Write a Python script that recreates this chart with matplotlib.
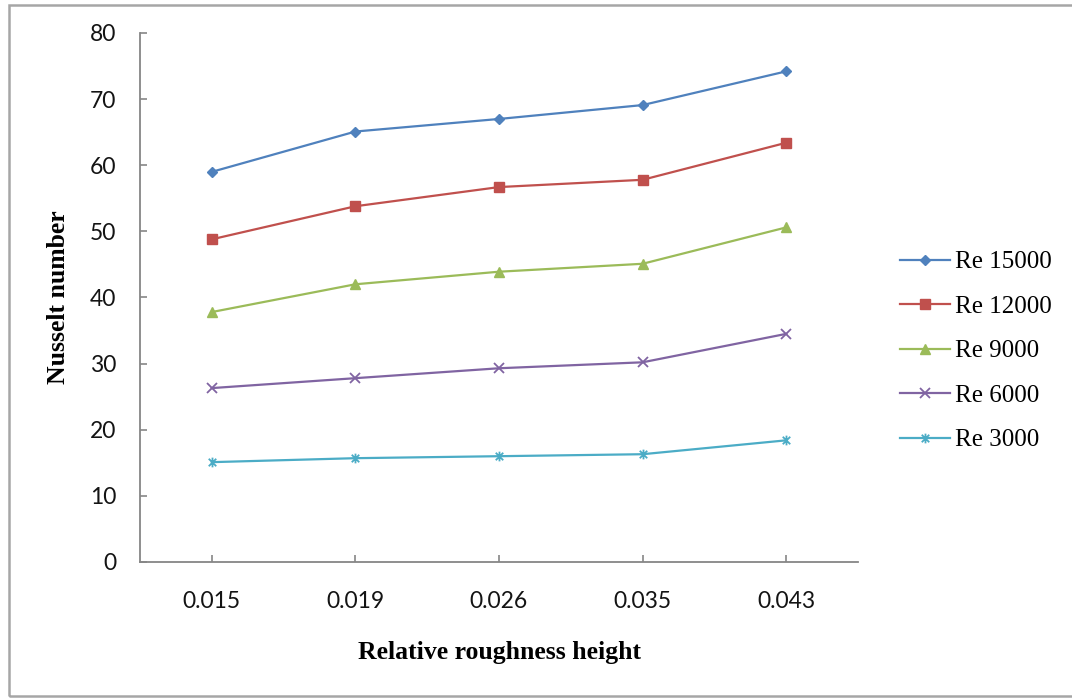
import matplotlib
matplotlib.use("Agg")
import matplotlib.pyplot as plt
from matplotlib.patches import Rectangle
from matplotlib.path import Path

# Data
roughness = ["0.015", "0.019", "0.026", "0.035", "0.043"]
re_15000 = [59.0, 65.1, 67.0, 69.1, 74.2]
re_12000 = [48.8, 53.8, 56.7, 57.8, 63.4]
re_9000 = [37.8, 42.0, 43.9, 45.1, 50.6]
re_6000 = [26.3, 27.8, 29.3, 30.2, 34.5]
re_3000 = [15.1, 15.7, 16.0, 16.3, 18.4]
series_labels = ["Re 15000", "Re 12000", "Re 9000", "Re 6000", "Re 3000"]
y_ticks = [0, 10, 20, 30, 40, 50, 60, 70, 80]

# Asterisk marker: an x with a vertical stroke
star_path = Path(
    [(-1, -1), (1, 1), (-1, 1), (1, -1), (0, -1.3), (0, 1.3)],
    [Path.MOVETO, Path.LINETO, Path.MOVETO, Path.LINETO, Path.MOVETO, Path.LINETO],
)

styles = [
    dict(color="#4F81BD", marker="D", ms=5.5),
    dict(color="#C0504D", marker="s", ms=6.5),
    dict(color="#9BBB59", marker="^", ms=7.0),
    dict(color="#8064A2", marker="x", ms=6.5, mew=1.3),
    dict(color="#4BACC6", marker=star_path, ms=7.0, mew=1.3),
]

W, H = 1072, 698
fig = plt.figure(figsize=(W / 100, H / 100), dpi=100)
fig.patch.set_facecolor("white")

# Outer chart frame
fig.patches.append(Rectangle((9 / W, 1 - 696 / H), 1.2, (696 - 4.5) / H,
                             transform=fig.transFigure, fill=False,
                             edgecolor="#a6a6a6", linewidth=1.8))

left, right, top, bottom = 140, 858, 33, 562
ax = fig.add_axes([left / W, 1 - bottom / H, (right - left) / W, (bottom - top) / H])

x = range(len(roughness))
all_series = [re_15000, re_12000, re_9000, re_6000, re_3000]
for vals, lab, st in zip(all_series, series_labels, styles):
    ax.plot(x, vals, label=lab, linewidth=1.6, color=st["color"], marker=st["marker"],
            markersize=st["ms"], markeredgewidth=st.get("mew", 1.0),
            markerfacecolor=st["color"], markeredgecolor=st["color"])

ax.set_xlim(-0.5, len(roughness) - 0.5)
ax.set_ylim(0, 80)
ax.set_yticks(y_ticks)
ax.set_xticks(list(x))
ax.set_xticklabels(roughness)

for s in ["top", "right"]:
    ax.spines[s].set_visible(False)
for s in ["left", "bottom"]:
    ax.spines[s].set_color("#868686")
    ax.spines[s].set_linewidth(1.3)

ax.tick_params(axis="both", direction="in", length=5, width=1.2, color="#868686",
               labelcolor="#141414")
ax.tick_params(axis="y", pad=17)
ax.tick_params(axis="x", pad=21)
for lbl in ax.get_xticklabels() + ax.get_yticklabels():
    lbl.set_fontfamily("Lato")
    lbl.set_fontsize(16.5)

ax.set_ylabel("Nusselt number", family="Liberation Serif", fontweight="bold", fontsize=18.5)
ax.set_xlabel("Relative roughness height", family="Liberation Serif", fontweight="bold", fontsize=18.5)
ax.yaxis.set_label_coords((70 - left) / (right - left), 0.5)
ax.xaxis.set_label_coords(0.5, (bottom - 641) / (bottom - top))

leg = fig.legend(loc="center left", bbox_to_anchor=(890 / W, 1 - 351 / H), frameon=False,
                 prop=dict(family="Liberation Serif", size=18), handlelength=2.0,
                 handletextpad=0.2, labelspacing=0.88, borderaxespad=0)

fig.savefig("out.png", dpi=100, facecolor="white")
